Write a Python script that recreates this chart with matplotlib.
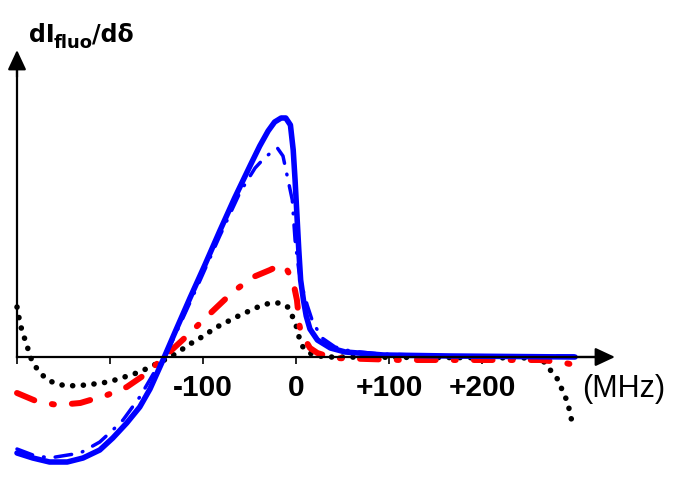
import matplotlib
matplotlib.use("Agg")
import matplotlib.pyplot as plt
import numpy as np

plt.rcParams['font.family'] = ['Liberation Sans', 'DejaVu Sans']
plt.rcParams['lines.scale_dashes'] = False

# detuning (MHz) and signal (arb. units)
blue_x = [-300, -283, -265, -246, -229, -211, -197, -182, -168, -157, -143, -130, -114, -98,
          -82, -66, -49, -39, -30, -23, -16, -11, -6, -3, -1, 1, 3, 5, 8, 11, 15, 23,
          37, 53, 94, 166, 300]
blue_y = [-96, -101, -105, -105, -101, -93, -81, -66, -50, -32, -3, 25, 59, 92,
          126, 159, 192, 211, 226, 235, 239, 239, 232, 207, 177, 142, 107, 77, 57, 41, 28, 17,
          9, 5, 2, 1, 0]

bluedd_x = [-300, -283, -265, -232, -211, -197, -186, -168, -151, -141, -125, -103, -82, -60,
            -44, -33, -20, -14, -9, -4, -1, 3, 6, 12, 18, 28, 42, 58, 90, 166, 300]
bluedd_y = [-92, -98, -101, -96, -85, -73, -63, -40, -13, 0, 32, 77, 121, 165,
            189, 200, 209, 201, 179, 157, 117, 87, 72, 52, 35, 19, 10, 6, 3, 1, 1]

red_x = [-300, -277, -256, -232, -203, -182, -160, -143, -122, -103, -85, -68, -46, -28,
         -17, -10, -3, 1, 4, 10, 15, 23, 40, 112, 219, 262, 284, 300]
red_y = [-36, -45, -48, -46, -38, -30, -16, -1, 17, 34, 50, 65, 80, 87,
         92, 88, 75, 57, 30, 17, 9, 4, -1, -3, -3, -3, -5, -8]

black_x = [-300, -297, -294, -290, -287, -283, -275, -267, -257, -246, -225, -202, -191, -178,
           -168, -157, -146, -135, -125, -114, -103, -85, -62, -41, -28, -17, -9, -3,
           1, 4, 8, 18, 33, 262, 268, 275, 282, 287, 292, 297]
black_y = [50, 35, 24, 14, 4, -6, -16, -23, -27, -29, -28, -25, -22, -18,
           -15, -10, -5, 0, 6, 13, 19, 30, 41, 50, 54, 54, 50, 39,
           29, 17, 9, 2, 0, -1, -6, -15, -23, -35, -45, -66]

tick_pos = [-300, -200, -100, 0, 100, 200]
tick_lab = ['', '', '-100', '0', '+100', '+200']

W, H = 676, 484
fig = plt.figure(figsize=(W / 100, H / 100), dpi=100)
ax = fig.add_axes([0, 0, 1, 1])

# pixel -> data mapping: x=0 MHz at px 296, 100 MHz = 93 px, y=0 at px 357
ax.set_xlim((0 - 296) / 0.93, (W - 296) / 0.93)
ax.set_ylim(357 - H, 357)

ax.plot(black_x, black_y, color='black', lw=4, linestyle=(0, (0.1, 7.6)),
        dash_capstyle='round', zorder=2)
ax.plot(red_x, red_y, color='#ff0000', lw=4.3, linestyle=(0, (13.5, 13, 1.5, 13)),
        dash_capstyle='round', zorder=3)
ax.plot(blue_x, blue_y, color='#0000ff', lw=4, solid_capstyle='round',
        solid_joinstyle='round', zorder=4)
ax.plot(bluedd_x, bluedd_y, color='#0000ff', lw=2.5, linestyle=(0, (12, 8, 0.5, 8)),
        dash_capstyle='round', zorder=5)

# axes with arrows
for s in ['top', 'right']:
    ax.spines[s].set_visible(False)
ax.spines['bottom'].set_position(('data', 0))
ax.spines['left'].set_position(('data', -300))
ax.spines['bottom'].set_bounds(-300, 330)
ax.spines['left'].set_bounds(0, 290)
ax.spines['bottom'].set_linewidth(1.6)
ax.spines['left'].set_linewidth(1.6)
ax.spines['bottom'].set_zorder(6)

arrow = dict(arrowstyle='-|>,head_length=0.6,head_width=0.28', color='black',
             lw=1.6, shrinkA=0, shrinkB=0, mutation_scale=20)
ax.annotate('', xy=((615 - 296) / 0.93, 0), xytext=(300, 0), arrowprops=arrow, zorder=7)
ax.annotate('', xy=(-300, 357 - 50), xytext=(-300, 280), arrowprops=arrow, zorder=7)

ax.set_xticks(tick_pos)
ax.set_xticklabels(tick_lab, fontsize=21.5, fontweight='bold')
ax.tick_params(axis='x', direction='out', length=5, width=1.2, pad=7)
ax.set_yticks([])

def fpx(x, y):
    return x / W, 1 - y / H

fig.text(*fpx(582, 397), '(MHz)', fontsize=22, ha='left', va='baseline')
lab = dict(family='DejaVu Sans', fontweight='bold', ha='left', va='baseline')
fig.text(*fpx(29, 42), 'dI', fontsize=17, **lab)
fig.text(*fpx(54, 48), 'fluo', fontsize=13, **lab)
fig.text(*fpx(92, 42), '/d\u03b4', fontsize=17, **lab)

fig.savefig('out.png', dpi=100)
